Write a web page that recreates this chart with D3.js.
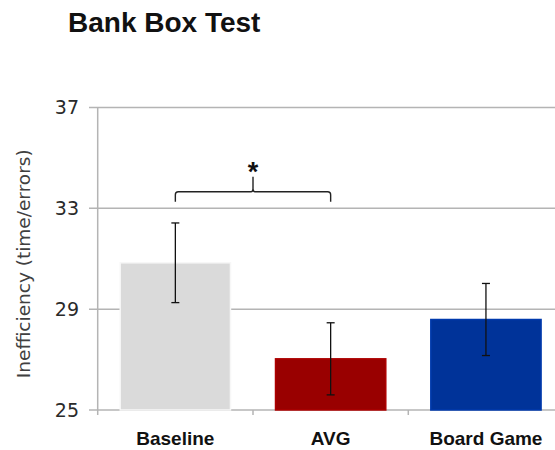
<!DOCTYPE html>
<html>
<head>
<meta charset="utf-8">
<script src="https://cdn.jsdelivr.net/npm/d3@7"></script>
<style>
  html, body { margin: 0; padding: 0; background: #fff; }
  svg { display: block; }
</style>
</head>
<body>
<div id="chart"></div>
<script>
const title = "Bank Box Test";
const yLabel = "Inefficiency (time/errors)";
const categories = ["Baseline", "AVG", "Board Game"];
const means = [30.84, 27.03, 28.59];
const errors = [1.58, 1.43, 1.43];
const colors = ["#dadada", "#990000", "#003399"];
const yTicks = [25, 29, 33, 37];
const sigPair = ["Baseline", "AVG"];
const sigLabel = "*";
const sigLevel = 33.66;

const W = 555, H = 450;
const margin = { left: 97.7, right: -8.6, top: 107.5, bottom: 40 };

const svg = d3.select("#chart").append("svg").attr("width", W).attr("height", H);

const x = d3.scaleBand()
  .domain(categories)
  .range([margin.left, W - margin.right])
  .paddingInner(0.29)
  .paddingOuter(0.145);

const y = d3.scaleLinear().domain([25, 37]).range([410, margin.top]);

// title
svg.append("text")
  .attr("x", 68).attr("y", 31.5)
  .attr("font-family", "Liberation Sans, Arial, sans-serif")
  .attr("font-weight", "bold").attr("font-size", 28)
  .attr("fill", "#111")
  .text(title);

// gridlines
svg.append("g").selectAll("line").data(yTicks).join("line")
  .attr("x1", 89).attr("x2", W)
  .attr("y1", d => y(d)).attr("y2", d => y(d))
  .attr("stroke", "#b4b4b4").attr("stroke-width", 1.5);

// y axis line
svg.append("line")
  .attr("x1", margin.left).attr("x2", margin.left)
  .attr("y1", y(37)).attr("y2", y(25))
  .attr("stroke", "#b4b4b4").attr("stroke-width", 1.5);

// x category boundary ticks
const bounds = categories.map(c => x(c) - x.step() * x.paddingOuter());
svg.append("g").selectAll("line").data(bounds).join("line")
  .attr("x1", d => d).attr("x2", d => d)
  .attr("y1", y(25)).attr("y2", y(25) + 5)
  .attr("stroke", "#b4b4b4").attr("stroke-width", 1.5);

// y tick labels
svg.append("g").selectAll("text").data(yTicks).join("text")
  .attr("x", 79).attr("y", d => y(d))
  .attr("dy", "0.36em")
  .attr("text-anchor", "end")
  .attr("font-family", "DejaVu Sans, sans-serif")
  .attr("font-size", 19)
  .attr("fill", "#2a2a2a")
  .text(d => d);

// y label
svg.append("text")
  .attr("transform", `translate(30,${(y(25) + y(37)) / 2 + 5}) rotate(-90)`)
  .attr("text-anchor", "middle")
  .attr("font-family", "DejaVu Sans, sans-serif")
  .attr("font-size", 18.5)
  .attr("fill", "#404040")
  .text(yLabel);

// bars
const data = categories.map((c, i) => ({ c, m: means[i], e: errors[i], col: colors[i] }));
svg.append("g").selectAll("rect").data(data).join("rect")
  .attr("x", d => x(d.c)).attr("width", x.bandwidth())
  .attr("y", d => y(d.m)).attr("height", d => y(25) - y(d.m))
  .attr("fill", d => d.col)
  .attr("stroke", d => d3.color(d.col).brighter(0.35))
  .attr("stroke-width", 1.5);

// error bars
const eb = svg.append("g").attr("stroke", "#111").attr("stroke-width", 1.3);
data.forEach(d => {
  const cx = x(d.c) + x.bandwidth() / 2;
  eb.append("line").attr("x1", cx).attr("x2", cx).attr("y1", y(d.m + d.e)).attr("y2", y(d.m - d.e));
  eb.append("line").attr("x1", cx - 4).attr("x2", cx + 4).attr("y1", y(d.m + d.e)).attr("y2", y(d.m + d.e));
  eb.append("line").attr("x1", cx - 4).attr("x2", cx + 4).attr("y1", y(d.m - d.e)).attr("y2", y(d.m - d.e));
});

// significance bracket
const bx1 = x(sigPair[0]) + x.bandwidth() / 2;
const bx2 = x(sigPair[1]) + x.bandwidth() / 2;
const by = y(sigLevel);
const bmid = (bx1 + bx2) / 2;
const r = 3;
const p = d3.path();
p.moveTo(bx1, by + 10);
p.lineTo(bx1, by + r);
p.quadraticCurveTo(bx1, by, bx1 + r, by);
p.lineTo(bmid - 2, by);
p.quadraticCurveTo(bmid, by, bmid, by - 3);
p.lineTo(bmid, by - 15);
p.moveTo(bmid, by - 3);
p.quadraticCurveTo(bmid, by, bmid + 2, by);
p.lineTo(bx2 - r, by);
p.quadraticCurveTo(bx2, by, bx2, by + r);
p.lineTo(bx2, by + 10);
svg.append("path").attr("d", p.toString())
  .attr("fill", "none").attr("stroke", "#222").attr("stroke-width", 1.4);

svg.append("text")
  .attr("x", bmid).attr("y", by - 11)
  .attr("text-anchor", "middle")
  .attr("font-family", "Liberation Sans, Arial, sans-serif")
  .attr("font-weight", "bold").attr("font-size", 27)
  .attr("fill", "#111")
  .text(sigLabel);

// category labels
svg.append("g").selectAll("text").data(categories).join("text")
  .attr("x", d => x(d) + x.bandwidth() / 2).attr("y", 445)
  .attr("text-anchor", "middle")
  .attr("font-family", "Liberation Sans, Arial, sans-serif")
  .attr("font-weight", "bold").attr("font-size", 19)
  .attr("fill", "#111")
  .text(d => d);
</script>
</body>
</html>
